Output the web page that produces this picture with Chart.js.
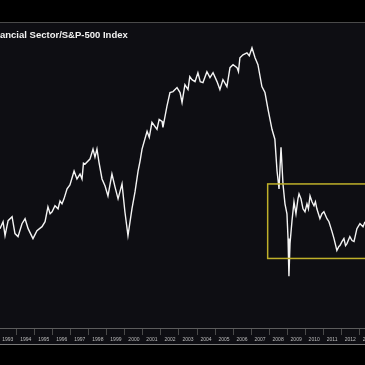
<!DOCTYPE html>
<html>
<head>
<meta charset="utf-8">
<script src="https://cdn.jsdelivr.net/npm/chart.js@4.4.1/dist/chart.umd.min.js"></script>
<style>
  html, body { margin: 0; padding: 0; background: #000; }
  #wrap { width: 365px; height: 365px; }
</style>
</head>
<body>
<div id="wrap"><canvas id="myChart"></canvas></div>
<script>
// Financial sector / S&P-500 ratio (decimal years)
const dates = [
  1993.07, 1993.24, 1993.35, 1993.52, 1993.74, 1993.90, 1994.07, 1994.29, 1994.46, 1994.63,
  1994.90, 1995.12, 1995.40, 1995.57, 1995.73, 1995.85, 1995.96, 1996.12, 1996.29, 1996.40,
  1996.51, 1996.62, 1996.79, 1996.95, 1997.18, 1997.34, 1997.51, 1997.62, 1997.70, 1997.79,
  1998.06, 1998.23, 1998.34, 1998.45, 1998.56, 1998.73, 1998.90, 1999.06, 1999.28, 1999.45,
  1999.62, 1999.84, 2000.00, 2000.17, 2000.39, 2000.56, 2000.73, 2000.84, 2000.95, 2001.23,
  2001.35, 2001.50, 2001.78, 2001.90, 2002.06, 2002.11, 2002.33, 2002.50, 2002.67, 2002.89,
  2003.06, 2003.17, 2003.33, 2003.50, 2003.60, 2003.72, 2003.89, 2004.05, 2004.18, 2004.33,
  2004.55, 2004.72, 2004.89, 2005.11, 2005.27, 2005.44, 2005.66, 2005.83, 2006.00, 2006.22,
  2006.30, 2006.38, 2006.55, 2006.77, 2006.90, 2007.05, 2007.22, 2007.38, 2007.60, 2007.77,
  2007.94, 2008.16, 2008.32, 2008.44, 2008.55, 2008.66, 2008.77, 2008.88, 2008.99, 2009.05,
  2009.10, 2009.16, 2009.27, 2009.38, 2009.49, 2009.60, 2009.66, 2009.77, 2009.88, 2009.99,
  2010.10, 2010.18, 2010.27, 2010.38, 2010.49, 2010.57, 2010.65, 2010.82, 2010.93, 2011.04,
  2011.21, 2011.32, 2011.49, 2011.60, 2011.76, 2011.87, 2011.93, 2012.04, 2012.15, 2012.24,
  2012.32, 2012.48, 2012.60, 2012.71, 2012.87, 2013.04, 2013.21, 2013.32
];
const ratio = [
  1.00, 1.07, 0.93, 1.08, 1.12, 0.95, 0.92, 1.05, 1.10, 1.00,
  0.90, 0.98, 1.02, 1.07, 1.22, 1.15, 1.17, 1.23, 1.20, 1.28,
  1.25, 1.30, 1.40, 1.44, 1.58, 1.50, 1.55, 1.50, 1.66, 1.65,
  1.70, 1.80, 1.72, 1.80, 1.67, 1.50, 1.43, 1.33, 1.55, 1.42,
  1.30, 1.45, 1.17, 0.93, 1.20, 1.37, 1.58, 1.68, 1.80, 1.98,
  1.92, 2.07, 2.00, 2.10, 2.08, 2.02, 2.23, 2.37, 2.38, 2.42,
  2.37, 2.27, 2.45, 2.40, 2.53, 2.50, 2.48, 2.57, 2.48, 2.47,
  2.58, 2.52, 2.57, 2.48, 2.40, 2.50, 2.43, 2.62, 2.65, 2.62,
  2.58, 2.72, 2.75, 2.77, 2.74, 2.82, 2.72, 2.65, 2.43, 2.37,
  2.20, 2.00, 1.90, 1.58, 1.40, 1.82, 1.45, 1.25, 1.15, 0.90,
  0.52, 0.85, 1.08, 1.27, 1.15, 1.30, 1.35, 1.30, 1.20, 1.17,
  1.25, 1.20, 1.33, 1.27, 1.23, 1.27, 1.20, 1.10, 1.15, 1.17,
  1.10, 1.07, 0.97, 0.90, 0.78, 0.82, 0.83, 0.87, 0.90, 0.83,
  0.85, 0.92, 0.88, 0.87, 1.00, 1.05, 1.02, 1.07
];
const yearTicks = [1993, 1994, 1995, 1996, 1997, 1998, 1999, 2000, 2001, 2002, 2003,
  2004, 2005, 2006, 2007, 2008, 2009, 2010, 2011, 2012, 2013];
const titleText = 'Financial Sector/S&P-500 Index';

// highlighted range (yellow box)
const boxStart = 2007.92;
const boxTop = 1.45;
const boxBottom = 0.70;

const ctx = document.getElementById('myChart').getContext('2d');

// backdrop: black band on top, dark panel, frame lines
const backdrop = {
  id: 'backdrop',
  beforeDraw(chart) {
    const c = chart.ctx;
    c.save();
    c.fillStyle = '#000';
    c.fillRect(0, 0, chart.width, chart.height);
    c.fillStyle = '#0e0e13';
    c.fillRect(0, 23, chart.width, 321);
    c.strokeStyle = '#4a4a4a';
    c.lineWidth = 1;
    c.beginPath();
    c.moveTo(0, 22.5); c.lineTo(chart.width, 22.5);
    c.stroke();
    c.strokeStyle = '#7a7a7a';
    c.beginPath();
    c.moveTo(0, 344.5); c.lineTo(chart.width, 344.5);
    c.stroke();
    c.restore();
  }
};

// box around the post-2008 range
const rangeBox = {
  id: 'rangeBox',
  afterDatasetsDraw(chart) {
    const x = chart.scales.x, y = chart.scales.y;
    const c = chart.ctx;
    const left = x.getPixelForValue(boxStart);
    const top = y.getPixelForValue(boxTop);
    const bottom = y.getPixelForValue(boxBottom);
    c.save();
    c.strokeStyle = '#bfb02a';
    c.lineWidth = 1.5;
    c.strokeRect(left, top, chart.width + 10 - left, bottom - top);
    c.restore();
  }
};

// title, cut off at the left edge like the source image
const headline = {
  id: 'headline',
  afterDraw(chart) {
    const c = chart.ctx;
    c.save();
    c.font = 'bold 9.5px "Liberation Sans", Arial, sans-serif';
    c.fillStyle = '#f2f2f2';
    c.textBaseline = 'middle';
    const cut = c.measureText('Fin').width;
    c.fillText(titleText, -cut, 35);
    c.restore();
  }
};

new Chart(ctx, {
  type: 'line',
  data: {
    datasets: [{
      label: 'Financials / S&P 500',
      data: dates.map((d, i) => ({ x: d, y: ratio[i] })),
      borderColor: '#f4f4f4',
      borderWidth: 1.4,
      pointRadius: 0,
      tension: 0
    }]
  },
  options: {
    responsive: true,
    maintainAspectRatio: false,
    animation: false,
    layout: { padding: { top: 23, left: 0, right: 0, bottom: 20 } },
    plugins: {
      legend: { display: false },
      tooltip: { enabled: false }
    },
    scales: {
      x: {
        type: 'linear',
        min: 1993.07,
        max: 2013.32,
        afterBuildTicks: (scale) => {
          scale.ticks = yearTicks.map(v => ({ value: v }));
        },
        afterFit: (scale) => {
          scale.paddingLeft = 0;
          scale.paddingRight = 0;
        },
        border: { display: true, color: '#5c5c5c', width: 1 },
        grid: {
          drawOnChartArea: false,
          drawTicks: true,
          tickLength: 7,
          color: '#4a4a4a'
        },
        ticks: {
          autoSkip: false,
          maxRotation: 0,
          padding: 2,
          labelOffset: 9,
          color: '#bdbdbd',
          font: { size: 5, family: '"Liberation Sans", Arial, sans-serif' },
          callback: (v) => String(v)
        }
      },
      y: {
        display: false,
        min: 0,
        max: 3.07
      }
    }
  },
  plugins: [backdrop, rangeBox, headline]
});
</script>
</body>
</html>
